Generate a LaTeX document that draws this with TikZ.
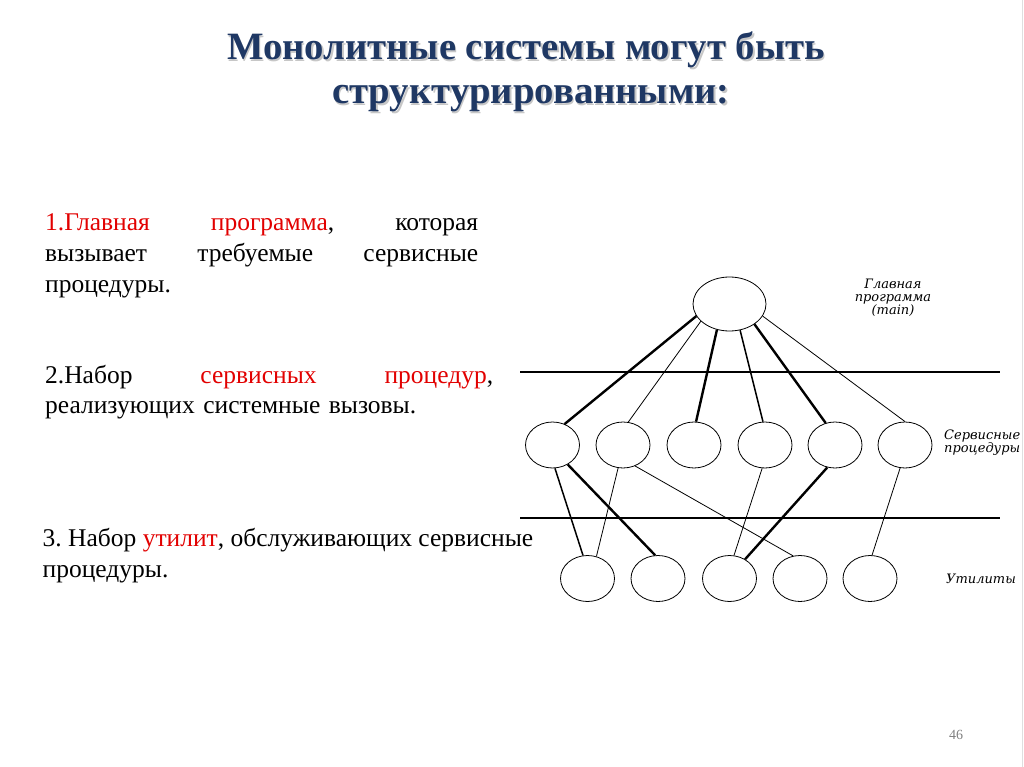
\documentclass[tikz,border=0pt]{standalone}
\usepackage{fontspec}
\setmainfont{Liberation Serif}
\newfontfamily\lblfont{DejaVu Serif}
\usetikzlibrary{shapes.geometric}
\definecolor{titleblue}{RGB}{31,56,100}
\definecolor{txtred}{RGB}{226,0,0}
\frenchspacing
\begin{document}
\begin{tikzpicture}[x=1pt,y=-1pt,
  titlesty/.style={anchor=base, inner sep=0pt, text=titleblue, font=\fontsize{38.7}{46}\selectfont\bfseries},
  shadowsty/.style={titlesty, text=black!22},
  bodysty/.style={anchor=base west, inner sep=0pt, align=left, font=\fontsize{25.5}{30.5}\selectfont},
  proc/.style={draw, ellipse, line width=0.8pt, minimum width=54pt, minimum height=46pt, inner sep=0pt},
  mainproc/.style={proc, minimum width=73pt, minimum height=54pt},
  lnthin/.style={line width=0.8pt},
  lnmid/.style={line width=1.5pt},
  lnheavy/.style={line width=2.4pt},
  sepline/.style={line width=2.6pt},
  lbl/.style={inner sep=0pt, font=\lblfont\itshape\fontsize{13}{13}\selectfont}
]
\useasboundingbox (0,0) rectangle (1024,767);
\fill[white] (0,0) rectangle (1024,767);
\coordinate (rb1) at (1022.5,0);
\coordinate (rb2) at (1022.5,767);
\draw[gray!25, line width=1.5pt] (rb1) -- (rb2);

% title
\node[shadowsty] (t1s) at (527.5,61.5) {Монолитные системы могут быть};
\node[shadowsty] (t2s) at (532.5,105.5) {структурированными:};
\node[titlesty] (t1) at (526,60) {Монолитные системы могут быть};
\node[titlesty] (t2) at (531,104) {структурированными:};

% body text
\node[bodysty, text width=433pt] (p1) at (45,231) {{\color{txtred}1.Главная}\hfill{\color{txtred}программа},\hfill которая\\
вызывает\hfill требуемые\hfill сервисные\\
процедуры.};
\node[bodysty, text width=448pt] (p2) at (45,383) {2.Набор\hfill{\color{txtred}сервисных}\hfill{\color{txtred}процедур},\\
реализующих системные вызовы.};
% base anchor of this node is the baseline of its last line
\node[bodysty] (p3) at (42.5,577) {3. Набор {\color{txtred}утилит}, обслуживающих сервисные\\
процедуры.};

% separator lines
\coordinate (h1l) at (520,372);
\coordinate (h1r) at (1000,372);
\coordinate (h2l) at (520,518);
\coordinate (h2r) at (1000,518);
\draw[sepline] (h1l) -- (h1r);
\draw[sepline] (h2l) -- (h2r);

% nodes
\node[mainproc] (m) at (729.5,304) {};
\node[proc] (s1) at (552.5,445) {};
\node[proc] (s2) at (623,445) {};
\node[proc] (s3) at (694,445) {};
\node[proc] (s4) at (765,445) {};
\node[proc] (s5) at (835,445) {};
\node[proc] (s6) at (905,445) {};
\node[proc] (u1) at (587.5,578.5) {};
\node[proc] (u2) at (658,578.5) {};
\node[proc] (u3) at (729.5,578.5) {};
\node[proc] (u4) at (800,578.5) {};
\node[proc] (u5) at (870,578.5) {};

% edges
\draw[lnheavy] (m.200) -- (s1.60);
\draw[lnthin] (m.211) -- (s2.77);
\draw[lnheavy] (m.244) -- (s3.85);
\draw[lnmid] (m.292) -- (s4.95);
\draw[lnheavy] (m.321) -- (s5.113);
\draw[lnthin] (m.340) -- (s6.90);
\draw[lnmid] (s1.276) -- (u1.101);
\draw[lnheavy] (s1.308) -- (u2.97);
\draw[lnthin] (s2.258) -- (u1.68);
\draw[lnthin] (s2.300) -- (u4.107);
\draw[lnthin] (s4.263) -- (u3.79);
\draw[lnheavy] (s5.251) -- (u3.51);
\draw[lnthin] (s6.258) -- (u5.85);

% labels
\node[lbl, align=center] (lm) at (893,298) {Главная\\программа\\(main)};
\node[lbl, align=left, anchor=west] (ls) at (944,443) {Сервисные\\процедуры};
\node[lbl, anchor=west] (lu) at (946,579) {Утилиты};

% page number
\node[inner sep=0pt, text=gray, font=\fontsize{14}{16}\selectfont] (pn) at (956,735) {46};
\end{tikzpicture}
\end{document}
